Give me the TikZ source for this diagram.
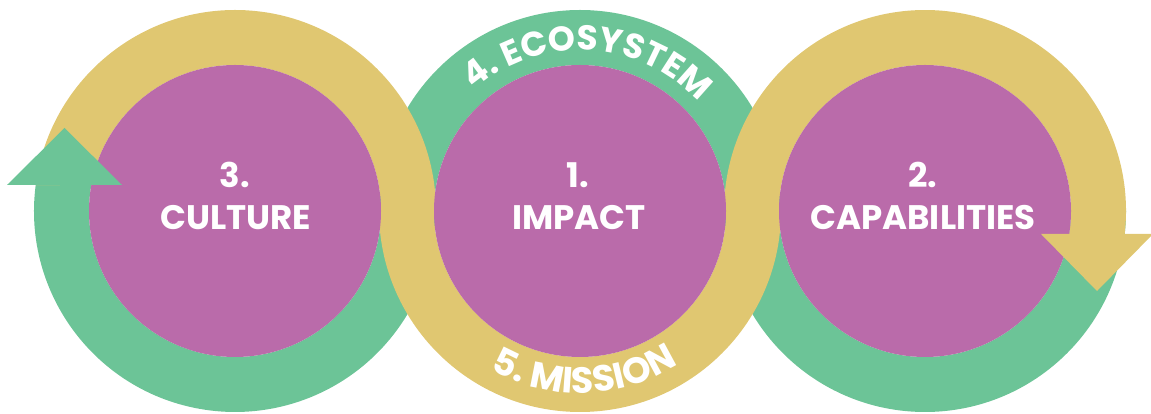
\documentclass[tikz,border=0pt]{standalone}
\usepackage{fontspec}
\newfontfamily\pop{Poppins}
\usetikzlibrary{calc,decorations.text}

\definecolor{ringyellow}{RGB}{224,199,113}
\definecolor{ringgreen}{RGB}{108,196,151}
\definecolor{discpurple}{RGB}{186,107,170}

% ring segment: colour, centre, outer start, outer end, inner end, inner start
\newcommand{\ringband}[6]{%
  \fill[#1] ($(#2)+(#3:201pt)$) arc[start angle=#3,end angle=#4,radius=201pt]
    -- ($(#2)+(#5:146pt)$) arc[start angle=#5,end angle=#6,radius=146pt] -- cycle;}

\tikzset{
  disc/.style={circle,fill=discpurple,minimum size=292pt,inner sep=0pt},
  numtext/.style={text=white,inner sep=0pt,anchor=base,font=\pop\bfseries\fontsize{34pt}{41pt}\selectfont},
}

\begin{document}
\begin{tikzpicture}[x=1pt,y=1pt]
\useasboundingbox (0,0) rectangle (1151,414);
\clip (0,0) rectangle (1151,414);

\coordinate (L) at (235,203);
\coordinate (M) at (580,203);
\coordinate (R) at (925,203);

% green loop
\ringband{ringgreen}{L}{172.57}{360}{360}{169.74}
\ringband{ringgreen}{M}{0}{180}{180}{0}
\ringband{ringgreen}{R}{180}{360}{360}{180}

% yellow loop, lying over the green one
\ringband{ringyellow}{L}{0}{172.57}{169.74}{0}
\ringband{ringyellow}{M}{180}{360}{360}{180}
\ringband{ringyellow}{R}{-6.57}{180}{180}{-9.06}

% discs
\node[disc] (discL) at (L) {};
\node[disc] (discM) at (M) {};
\node[disc] (discR) at (R) {};

% arrow heads
\fill[ringgreen] (7,229) -- (122,229) -- (64.5,286) -- cycle;
\fill[ringyellow] (1041,180) -- (1153,180) -- (1097,123) -- cycle;

% disc labels
\node[numtext] (numL) at (235,226) {3.};
\node[numtext] (labL) at (236,184.5) {CULTURE};
\node[numtext] (numM) at (578,226) {1.};
\node[numtext] (labM) at (579,184.5) {IMPACT};
\node[numtext] (numR) at (923,226) {2.};
\node[numtext] (labR) at (923,184.5) {CAPABILITIES};

% curved labels on the middle ring
\path[decorate,decoration={text along path,text align=center,text color=white,
  text={|\pop\bfseries\fontsize{34.5pt}{34.5pt}\selectfont|4. ECOSYSTEM}}]
  ($(M)+(178:161pt)$) arc[start angle=178,end angle=-4,radius=161pt];
\path[decorate,decoration={text along path,text align=center,text color=white,
  text={|\pop\bfseries\fontsize{36.5pt}{36.5pt}\selectfont|5. MISSION}}]
  ($(M)+(182:182pt)$) arc[start angle=182,end angle=361,radius=182pt];
\end{tikzpicture}
\end{document}
